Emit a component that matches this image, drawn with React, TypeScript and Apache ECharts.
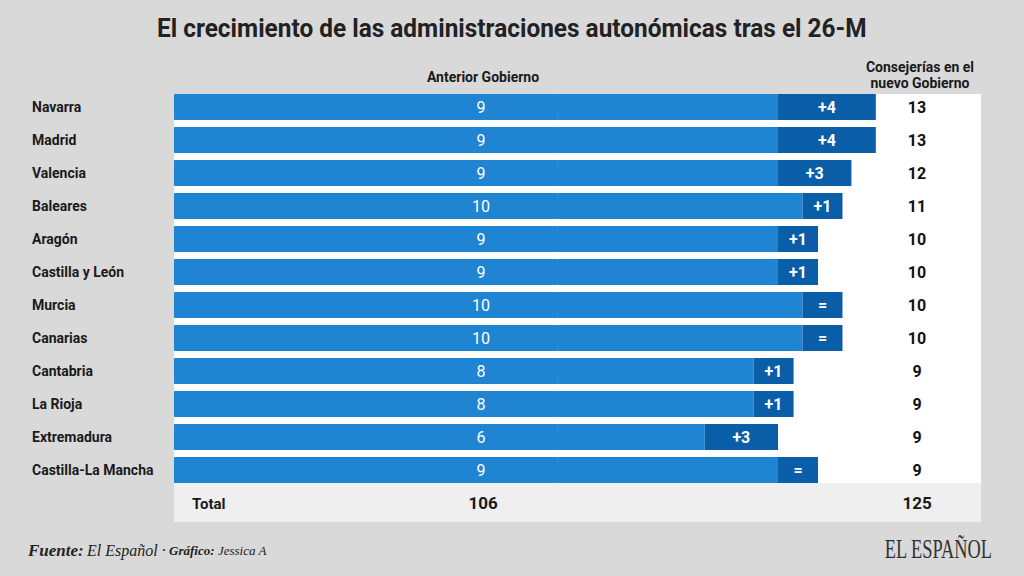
import React, { useEffect, useRef } from "react";
import * as echarts from "echarts";

const TITLE = "El crecimiento de las administraciones autonómicas tras el 26-M";
const REGIONS = [
  "Navarra",
  "Madrid",
  "Valencia",
  "Baleares",
  "Aragón",
  "Castilla y León",
  "Murcia",
  "Canarias",
  "Cantabria",
  "La Rioja",
  "Extremadura",
  "Castilla-La Mancha",
];
const ANTERIOR = [9, 9, 9, 10, 9, 9, 10, 10, 8, 8, 6, 9];
const NUEVO = [13, 13, 12, 11, 10, 10, 10, 10, 9, 9, 9, 9];
const HEADER_LEFT = "Anterior Gobierno";
const HEADER_RIGHT = ["Consejerías en el", "nuevo Gobierno"];
const TOTAL_LABEL = "Total";

const DIFF = NUEVO.map((n, i) => n - ANTERIOR[i]);
const TOTAL_ANT = ANTERIOR.reduce((a, b) => a + b, 0);
const TOTAL_NUEVO = NUEVO.reduce((a, b) => a + b, 0);

// layout / style constants
const LIGHT = "#1f85d2";
const DARK = "#0a5ea8";
const BG = "#d9d9d9";
const INK = "#1a1a1a";
const GRID_LEFT = 174;
const GRID_W = 807;
const ROW_H = 33;
const BAR_W = 26;
const GRID_TOP = 90.5;
const PAD = 15.7; // visual base of every bar (axis units)
const AXIS_MAX = 33;

function measure(text: string, font: string): number {
  const c = document.createElement("canvas").getContext("2d");
  if (!c) return 1;
  c.font = font;
  return c.measureText(text).width || 1;
}

function fitText(
  text: string,
  x: number,
  y: number,
  size: number,
  targetW: number,
  align: string,
  weight: string,
  family: string,
  color: string
) {
  const font = `${weight} ${size}px ${family}`;
  const w = measure(text, font);
  return {
    type: "text",
    x,
    y,
    scaleX: Math.min(1, targetW / w),
    z: 20,
    style: {
      text,
      font,
      fill: color,
      textAlign: align,
      textVerticalAlign: "middle",
    },
  };
}

export default function App() {
  const ref = useRef<HTMLDivElement>(null);
  useEffect(() => {
    if (!ref.current) return;
    const chart = echarts.init(ref.current, undefined, { renderer: "svg" });
    const panelTop = GRID_TOP + (ROW_H - BAR_W) / 2;
    const panelBottom = GRID_TOP + ROW_H * REGIONS.length - (ROW_H - BAR_W) / 2;

    const option: any = {
      animation: false,
      backgroundColor: BG,
      grid: {
        left: GRID_LEFT,
        top: GRID_TOP,
        width: GRID_W,
        height: ROW_H * REGIONS.length,
        containLabel: false,
      },
      xAxis: { type: "value", min: 0, max: AXIS_MAX, show: false },
      yAxis: [
        {
          type: "category",
          data: REGIONS,
          inverse: true,
          position: "left",
          axisLine: { show: false },
          axisTick: { show: false },
          splitLine: { show: false },
          axisLabel: {
            margin: GRID_LEFT - 32,
            align: "left",
            fontFamily: "Roboto",
            fontWeight: "bold",
            fontSize: 14,
            color: INK,
          },
        },
        {
          type: "category",
          data: NUEVO.map(String),
          inverse: true,
          position: "right",
          axisLine: { show: false },
          axisTick: { show: false },
          splitLine: { show: false },
          axisLabel: {
            inside: true,
            margin: 64,
            align: "center",
            fontFamily: "Roboto",
            fontWeight: "bold",
            fontSize: 16,
            color: "#111",
          },
        },
      ],
      series: [
        {
          name: "base",
          type: "bar",
          stack: "s",
          barWidth: BAR_W,
          data: REGIONS.map(() => PAD),
          itemStyle: { color: LIGHT, borderColor: LIGHT, borderWidth: 1 },
          silent: true,
          label: {
            show: true,
            position: [481 - GRID_LEFT, "50%"],
            align: "center",
            verticalAlign: "middle",
            formatter: (p: any) => String(ANTERIOR[p.dataIndex]),
            color: "#fff",
            fontFamily: "Roboto",
            fontSize: 16,
          },
        },
        {
          name: "Anterior Gobierno",
          type: "bar",
          stack: "s",
          barWidth: BAR_W,
          data: ANTERIOR,
          itemStyle: { color: LIGHT },
        },
        {
          name: "Cambio",
          type: "bar",
          stack: "s",
          barWidth: BAR_W,
          barMinHeight: 40,
          data: DIFF,
          itemStyle: { color: DARK },
          label: {
            show: true,
            position: "inside",
            formatter: (p: any) => (p.value > 0 ? "+" + p.value : "="),
            color: "#fff",
            fontFamily: "Roboto",
            fontWeight: "bold",
            fontSize: 16,
          },
        },
      ],
      graphic: [
        {
          type: "rect",
          z: -10,
          shape: { x: GRID_LEFT, y: panelTop, width: GRID_W, height: panelBottom - panelTop },
          style: { fill: "#ffffff" },
        },
        {
          type: "rect",
          z: -10,
          shape: { x: GRID_LEFT, y: panelBottom, width: GRID_W, height: 522 - panelBottom },
          style: { fill: "#efefef" },
        },
        fitText(TITLE, 157, 28, 26, 710, "left", "bold", "Roboto", "#222"),
        fitText(HEADER_LEFT, 483, 77, 14, 119, "center", "bold", "Roboto", INK),
        fitText(HEADER_RIGHT[0], 920, 67, 14, 112, "center", "bold", "Roboto", INK),
        fitText(HEADER_RIGHT[1], 920, 83, 14, 102, "center", "bold", "Roboto", INK),
        fitText(TOTAL_LABEL, 192, 504, 15, 34, "left", "bold", "Roboto", INK),
        {
          type: "text",
          x: 483,
          y: 503,
          z: 20,
          style: {
            text: String(TOTAL_ANT),
            font: "bold 17px Roboto",
            fill: INK,
            textAlign: "center",
            textVerticalAlign: "middle",
          },
        },
        {
          type: "text",
          x: 917,
          y: 503,
          z: 20,
          style: {
            text: String(TOTAL_NUEVO),
            font: "bold 17px Roboto",
            fill: INK,
            textAlign: "center",
            textVerticalAlign: "middle",
          },
        },
        {
          type: "text",
          x: 28,
          y: 550,
          z: 20,
          style: {
            text: "{b|Fuente:} {r|El Español ·} {sb|Gráfico:} {sr|Jessica A}",
            textVerticalAlign: "middle",
            rich: {
              b: { fontFamily: "Liberation Serif", fontStyle: "italic", fontWeight: "bold", fontSize: 17, fill: "#222", color: "#222" },
              r: { fontFamily: "Liberation Serif", fontStyle: "italic", fontSize: 16, fill: "#222", color: "#222" },
              sb: { fontFamily: "Liberation Serif", fontStyle: "italic", fontWeight: "bold", fontSize: 13, fill: "#222", color: "#222" },
              sr: { fontFamily: "Liberation Serif", fontStyle: "italic", fontSize: 13, fill: "#222", color: "#222" },
            },
          },
        },
        fitText("EL ESPAÑOL", 992, 549, 28, 108, "right", "normal", "'Liberation Serif', serif", "#333"),
      ],
    };
    chart.setOption(option);
    return () => chart.dispose();
  }, []);
  return (
    <div
      ref={ref}
      style={{ position: "absolute", left: 0, top: 0, width: 1024, height: 576 }}
    />
  );
}
